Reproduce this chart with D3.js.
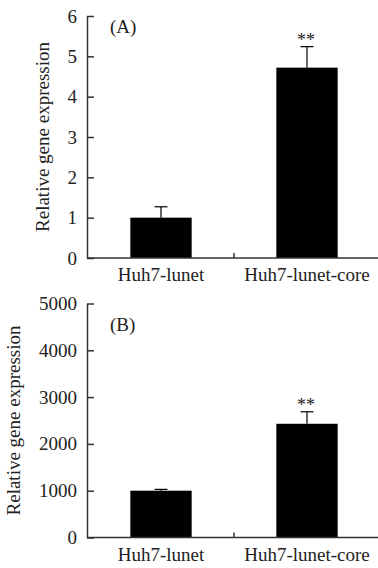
<!DOCTYPE html>
<html>
<head>
<meta charset="utf-8">
<script src="https://cdn.jsdelivr.net/npm/d3@7"></script>
<style>
  body { margin: 0; background: #fff; }
  svg text { font-family: "Liberation Serif", "Times New Roman", serif; fill: #222; }
</style>
</head>
<body>
<div id="chart"></div>
<script>
const categories = ['Huh7-lunet', 'Huh7-lunet-core'];

const valuesA = [1.0, 4.72];
const errorsA = [0.27, 0.52];
const ticksA = [0, 1, 2, 3, 4, 5, 6];
const signifA = ['', '**'];

const valuesB = [1000, 2430];
const errorsB = [28, 256];
const ticksB = [0, 1000, 2000, 3000, 4000, 5000];
const signifB = ['', '**'];

const width = 378;
const height = 568;
const fontSize = 19;
const axisColor = '#333';

const svg = d3.select('#chart').append('svg')
  .attr('width', width)
  .attr('height', height);

function drawPanel(opts) {
  const { top, bottom, values, errors, ticks, signif, label, labelDy, titleX } = opts;
  const left = 87;

  /* Scale */
  const xScale = d3.scaleBand()
    .domain(categories)
    .range([left + 1, left + 293])
    .padding(0);

  const yScale = d3.scaleLinear()
    .domain([0, d3.max(ticks)])
    .range([bottom, top]);

  const barWidth = xScale.bandwidth() * 0.42;
  const capWidth = 13;

  const g = svg.append('g');

  /* Bars */
  g.selectAll('.bar')
    .data(values).enter()
    .append('rect')
    .attr('class', 'bar')
    .attr('x', (d, i) => xScale(categories[i]) + (xScale.bandwidth() - barWidth) / 2)
    .attr('y', d => yScale(d))
    .attr('width', barWidth)
    .attr('height', d => yScale(0) - yScale(d))
    .attr('fill', '#000');

  /* Error bars (upper only) */
  const cx = i => xScale(categories[i]) + xScale.bandwidth() / 2;

  g.selectAll('.err')
    .data(values).enter()
    .append('line')
    .attr('x1', (d, i) => cx(i))
    .attr('x2', (d, i) => cx(i))
    .attr('y1', d => yScale(d))
    .attr('y2', (d, i) => yScale(d + errors[i]))
    .attr('stroke', '#000')
    .attr('stroke-width', 1.2);

  g.selectAll('.cap')
    .data(values).enter()
    .append('line')
    .attr('x1', (d, i) => cx(i) - capWidth / 2)
    .attr('x2', (d, i) => cx(i) + capWidth / 2)
    .attr('y1', (d, i) => yScale(d + errors[i]))
    .attr('y2', (d, i) => yScale(d + errors[i]))
    .attr('stroke', '#000')
    .attr('stroke-width', 1.2);

  g.selectAll('.sig')
    .data(signif).enter()
    .append('text')
    .attr('x', (d, i) => cx(i) - 1)
    .attr('y', (d, i) => yScale(values[i] + errors[i]) - 1)
    .attr('text-anchor', 'middle')
    .style('font-size', '18px')
    .text(d => d);

  /* Y axis */
  const yAxis = d3.axisLeft(yScale)
    .tickValues(ticks)
    .tickSizeInner(-7)
    .tickSizeOuter(0)
    .tickPadding(10)
    .tickFormat(d3.format('d'));

  const yg = g.append('g')
    .attr('transform', `translate(${left}, 0)`)
    .call(yAxis);
  yg.selectAll('.tick line').attr('stroke', axisColor).attr('stroke-width', 1.5);
  yg.select('.domain').attr('stroke', axisColor).attr('stroke-width', 1.5);
  yg.selectAll('.tick text')
    .attr('fill', '#222')
    .style('font-size', fontSize + 'px')
    .style('font-family', '"Liberation Serif", serif');

  /* X axis */
  const xAxis = d3.axisBottom(xScale)
    .tickSize(0)
    .tickPadding(10);

  const xg = g.append('g')
    .attr('transform', `translate(0, ${bottom})`)
    .call(xAxis);
  xg.select('.domain')
    .attr('d', `M${left},0H${width}`)
    .attr('stroke', axisColor).attr('stroke-width', 1.5);
  xg.selectAll('.tick text')
    .attr('fill', '#222')
    .style('font-size', fontSize + 'px')
    .style('font-family', '"Liberation Serif", serif');

  // small tick between the two groups
  xg.append('line')
    .attr('x1', xScale(categories[1]))
    .attr('x2', xScale(categories[1]))
    .attr('y1', 0)
    .attr('y2', -5)
    .attr('stroke', axisColor)
    .attr('stroke-width', 1.5);

  /* Y label */
  g.append('text')
    .attr('transform', `translate(${titleX}, ${(top + bottom) / 2}) rotate(-90)`)
    .attr('text-anchor', 'middle')
    .style('font-size', fontSize + 'px')
    .text('Relative gene expression');

  /* Panel label */
  g.append('text')
    .attr('x', 110)
    .attr('y', top + labelDy)
    .style('font-size', fontSize + 'px')
    .text(label);
}

drawPanel({
  top: 16, bottom: 258,
  values: valuesA, errors: errorsA, ticks: ticksA, signif: signifA,
  label: '(A)', labelDy: 17, titleX: 49
});

drawPanel({
  top: 303.5, bottom: 537.5,
  values: valuesB, errors: errorsB, ticks: ticksB, signif: signifB,
  label: '(B)', labelDy: 27, titleX: 20
});
</script>
</body>
</html>
